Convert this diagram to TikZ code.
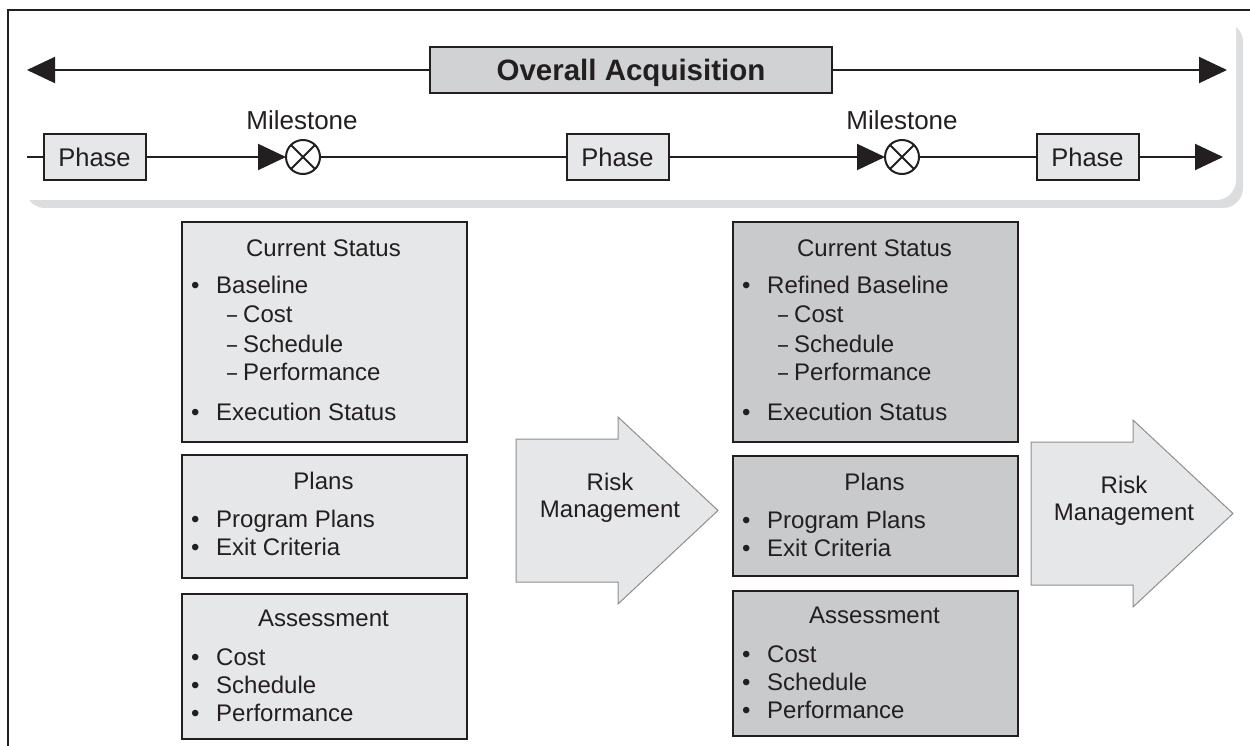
\documentclass[tikz,border=0pt]{standalone}
\usepackage{graphicx}
\usepackage{fontspec}
\setmainfont{Liberation Sans}
\usetikzlibrary{arrows.meta}
\definecolor{ink}{HTML}{231F20}
\definecolor{boxlight}{HTML}{E6E7E8}
\definecolor{boxmid}{HTML}{C9CACC}
\definecolor{titlegray}{HTML}{D1D2D4}
\definecolor{shadowgray}{HTML}{DCDDDF}
\definecolor{arrowedge}{HTML}{8E8E8E}
\newcommand\bitem[1]{\makebox[25pt][l]{•}#1}
\newcommand\ditem[1]{\makebox[18pt][l]{\hspace{2pt}\scalebox{0.75}[1]{–}}#1}
\begin{document}
\begin{tikzpicture}[x=1pt,y=-1pt,
  txt/.style={inner sep=0pt, text=ink, font=\fontsize{24}{29}\selectfont},
  infobox/.style={draw=ink, line width=2pt, inner sep=0pt, anchor=north west, minimum width=285pt},
  phasebox/.style={draw=ink, line width=2pt, fill=boxlight, minimum width=102pt, minimum height=46pt, inner sep=0pt, text=ink, font=\fontsize{25.5}{30}\selectfont},
  conn/.style={draw=ink, line width=2pt},
  endtip/.style={-{Triangle[length=28pt,width=26pt]}},
  milestone/.style={circle, draw=ink, line width=2pt, minimum size=34pt, inner sep=0pt, outer sep=0pt},
  riskarrow/.style={fill=boxlight, draw=arrowedge, line width=1pt},
]
\useasboundingbox (0,0) rectangle (1250,746);
% panel with shadow
\fill[shadowgray, rounded corners=20pt] (25,22) rectangle (1243,208);
\fill[white, rounded corners=20pt] (0,0) rectangle (1236,200);
% frame
\draw[ink, line width=2pt] (8,746) -- (8,10) -- (1250,10);

% overall acquisition
\node[draw=ink, line width=2.5pt, fill=titlegray, minimum width=402pt, minimum height=46pt,
      inner sep=0pt, text=ink, font=\bfseries\fontsize{29.5}{32}\selectfont, text depth=0pt]
      (title) at (631,70) {Overall Acquisition};
\coordinate (tl) at (27,70);
\coordinate (tr) at (1227,70);
\draw[conn, endtip] (title.west) -- (tl);
\draw[conn, endtip] (title.east) -- (tr);

% phase row
\node[phasebox] (ph1) at (94.5,157) {Phase};
\node[phasebox] (ph2) at (617.5,157) {Phase};
\node[phasebox] (ph3) at (1087.5,157) {Phase};
\node[milestone] (ms1) at (303,157) {};
\node[milestone] (ms2) at (902,157) {};
\draw[conn] (ms1.north east) -- (ms1.south west) (ms1.north west) -- (ms1.south east);
\draw[conn] (ms2.north east) -- (ms2.south west) (ms2.north west) -- (ms2.south east);
\node[txt, font=\fontsize{26}{30}\selectfont, anchor=base] (ml1) at (302,130) {Milestone};
\node[txt, font=\fontsize{26}{30}\selectfont, anchor=base] (ml2) at (902,130) {Milestone};
\coordinate (ps) at (27,157);
\coordinate (pe) at (1223,157);
\draw[conn] (ps) -- (ph1.west);
\draw[conn, endtip] (ph1.east) -- (ms1.west);
\draw[conn] (ms1.east) -- (ph2.west);
\draw[conn, endtip] (ph2.east) -- (ms2.west);
\draw[conn] (ms2.east) -- (ph3.west);
\draw[conn, endtip] (ph3.east) -- (pe);

% info boxes
\foreach \xl/\fc/\bl/\py/\phh/\ay/\ahh/\n in
  {181/boxlight/Baseline/454/123/593/145/1, 732/boxmid/Refined Baseline/455/120/590/145/2}{
  \node[infobox, fill=\fc, minimum height=220pt] (cs\n) at (\xl,221) {};
  \node[txt, anchor=base] (cs\n-h) at ({\xl+142.5},256) {Current Status};
  \node[txt, anchor=base west] (cs\n-a) at ({\xl+10},293) {\bitem{\bl}};
  \node[txt, anchor=base west] (cs\n-b) at ({\xl+44},322) {\ditem{Cost}};
  \node[txt, anchor=base west] (cs\n-c) at ({\xl+44},352) {\ditem{Schedule}};
  \node[txt, anchor=base west] (cs\n-d) at ({\xl+44},380) {\ditem{Performance}};
  \node[txt, anchor=base west] (cs\n-e) at ({\xl+10},420) {\bitem{Execution Status}};
  \node[infobox, fill=\fc, minimum height=\phh pt] (pl\n) at (\xl,\py) {};
  \node[txt, anchor=base] (pl\n-h) at ({\xl+142.5},{\py+35}) {Plans};
  \node[txt, anchor=base west] (pl\n-a) at ({\xl+10},{\py+73}) {\bitem{Program Plans}};
  \node[txt, anchor=base west] (pl\n-b) at ({\xl+10},{\py+101}) {\bitem{Exit Criteria}};
  \node[infobox, fill=\fc, minimum height=\ahh pt] (as\n) at (\xl,\ay) {};
  \node[txt, anchor=base] (as\n-h) at ({\xl+142.5},{\ay+33}) {Assessment};
  \node[txt, anchor=base west] (as\n-a) at ({\xl+10},{\ay+72}) {\bitem{Cost}};
  \node[txt, anchor=base west] (as\n-b) at ({\xl+10},{\ay+100}) {\bitem{Schedule}};
  \node[txt, anchor=base west] (as\n-c) at ({\xl+10},{\ay+128}) {\bitem{Performance}};
}

% risk management arrows
\foreach \dx/\dy/\n/\tx in {0/0/1/610, 515/3/2/1124}{
  \draw[riskarrow] ({516+\dx},{439+\dy}) -- ({618+\dx},{439+\dy}) -- ({618+\dx},{417+\dy})
     -- ({718+\dx},{510.5+\dy}) -- ({618+\dx},{604+\dy}) -- ({618+\dx},{582+\dy})
     -- ({516+\dx},{582+\dy}) -- cycle;
  \node[txt, anchor=base] (rk\n a) at (\tx,{490+\dy}) {Risk};
  \node[txt, anchor=base] (rk\n b) at (\tx,{517+\dy}) {Management};
}
\end{tikzpicture}
\end{document}
